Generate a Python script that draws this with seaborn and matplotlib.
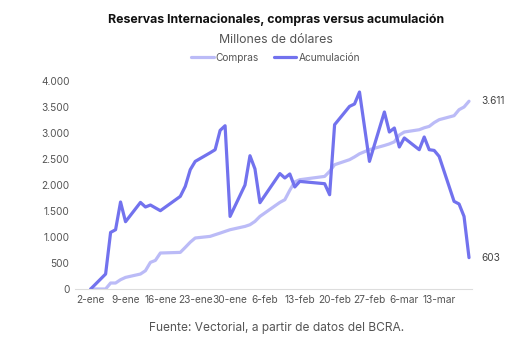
import matplotlib
matplotlib.use("Agg")
import matplotlib.pyplot as plt
import matplotlib.ticker as mticker
import seaborn as sns
import pandas as pd

fechas = ["2025-01-02", "2025-01-05", "2025-01-06", "2025-01-07", "2025-01-08", "2025-01-09",
          "2025-01-12", "2025-01-13", "2025-01-14", "2025-01-15", "2025-01-16",
          "2025-01-20", "2025-01-21", "2025-01-22", "2025-01-23", "2025-01-26", "2025-01-27",
          "2025-01-28", "2025-01-29", "2025-01-30",
          "2025-02-02", "2025-02-03", "2025-02-04", "2025-02-05",
          "2025-02-09", "2025-02-10", "2025-02-11", "2025-02-12", "2025-02-13",
          "2025-02-18", "2025-02-19", "2025-02-20", "2025-02-23", "2025-02-24", "2025-02-25",
          "2025-02-27", "2025-03-02", "2025-03-03", "2025-03-04", "2025-03-05", "2025-03-06",
          "2025-03-09", "2025-03-10", "2025-03-11", "2025-03-12", "2025-03-13",
          "2025-03-16", "2025-03-17", "2025-03-18", "2025-03-19"]

compras = [0, 0, 115, 115, 179, 223,
           288, 352, 512, 550, 692,
           704, 800, 900, 981, 1012, 1044,
           1075, 1108, 1140,
           1204, 1236, 1300, 1396,
           1665, 1717, 1900, 2060, 2102,
           2165, 2262, 2390, 2487, 2540, 2600,
           2680, 2760, 2790, 2830, 2960, 3019,
           3063, 3100, 3127, 3200, 3256,
           3333, 3448, 3500, 3611]

acumulacion = [0, 288, 1088, 1140, 1673, 1294,
               1665, 1577, 1615, 1560, 1506,
               1781, 1973, 2294, 2454, 2620, 2679,
               3050, 3140, 1396,
               2000, 2563, 2310, 1660,
               2220, 2135, 2212, 1962, 2069,
               2025, 1813, 3160, 3512, 3558, 3788,
               2454, 3404, 3019, 3096, 2731, 2904,
               2679, 2923, 2679, 2665, 2550,
               1685, 1635, 1396, 603]

ticks = ["2025-01-02", "2025-01-09", "2025-01-16", "2025-01-23", "2025-01-30", "2025-02-06",
         "2025-02-13", "2025-02-20", "2025-02-27", "2025-03-06", "2025-03-13"]
tick_labels = ["2-ene", "9-ene", "16-ene", "23-ene", "30-ene", "6-feb",
               "13-feb", "20-feb", "27-feb", "6-mar", "13-mar"]

series_names = ["Compras", "Acumulación"]
colores = ["#BBBBF7", "#7272EE"]

sns.set_theme(style="white")
plt.rcParams["font.family"] = ["Inter", "DejaVu Sans"]

fechas_dt = pd.to_datetime(fechas)
df = pd.DataFrame({
    "fecha": list(fechas_dt) * 2,
    "valor": compras + acumulacion,
    "serie": [series_names[0]] * len(fechas) + [series_names[1]] * len(fechas),
})

fig = plt.figure(figsize=(5.25, 3.51), dpi=100)
ax = fig.add_axes([75 / 525, 1 - 289 / 351, (472 - 75) / 525, (289 - 81) / 351])

sns.lineplot(data=df, x="fecha", y="valor", hue="serie", palette=colores,
             hue_order=series_names, linewidth=2.3, ax=ax, legend=False)

t0 = fechas_dt[0]
ax.set_xlim(t0 - pd.Timedelta(days=3.15), t0 + pd.Timedelta(days=76.6))
ax.set_ylim(0, 4000)
ax.set_xticks(pd.to_datetime(ticks))
ax.set_xticklabels(tick_labels)
ax.yaxis.set_major_locator(mticker.MultipleLocator(500))
ax.yaxis.set_major_formatter(mticker.FuncFormatter(lambda v, p: f"{int(v):,}".replace(",", ".")))
ax.tick_params(axis="both", labelsize=7.3, colors="#555555", length=0, pad=4)
ax.set_xlabel("")
ax.set_ylabel("")
for s in ["top", "right", "left"]:
    ax.spines[s].set_visible(False)
ax.spines["bottom"].set_color("#dddddd")
ax.spines["bottom"].set_linewidth(0.8)
ax.grid(False)

# end labels
ax.annotate(f"{compras[-1]:,}".replace(",", "."), xy=(fechas_dt[-1], compras[-1]),
            xytext=(9, 0), textcoords="offset points", va="center", ha="left",
            fontsize=7.3, color="#444444")
ax.annotate(f"{acumulacion[-1]:,}".replace(",", "."), xy=(fechas_dt[-1], acumulacion[-1]),
            xytext=(9, 0), textcoords="offset points", va="center", ha="left",
            fontsize=7.3, color="#444444")

fig.text(0.525, 1 - 20 / 351, "Reservas Internacionales, compras versus acumulación",
         ha="center", va="center", fontsize=8.9, fontweight="bold", color="#111111")
fig.text(0.525, 1 - 40 / 351, "Millones de dólares", ha="center", va="center",
         fontsize=8.9, color="#555555")

handles = [plt.Line2D([0], [0], color=c, lw=2.3) for c in colores]
fig.legend(handles, series_names, loc="center", bbox_to_anchor=(0.525, 1 - 58 / 351),
           ncol=2, frameon=False, fontsize=7.3, handlelength=2.2, handletextpad=0.2,
           columnspacing=1.5, labelcolor="#555555")

fig.text(277 / 525, 1 - 328 / 351, "Fuente: Vectorial, a partir de datos del BCRA.",
         ha="center", va="center", fontsize=8.6, color="#555555")

fig.savefig("out.png", dpi=100)
